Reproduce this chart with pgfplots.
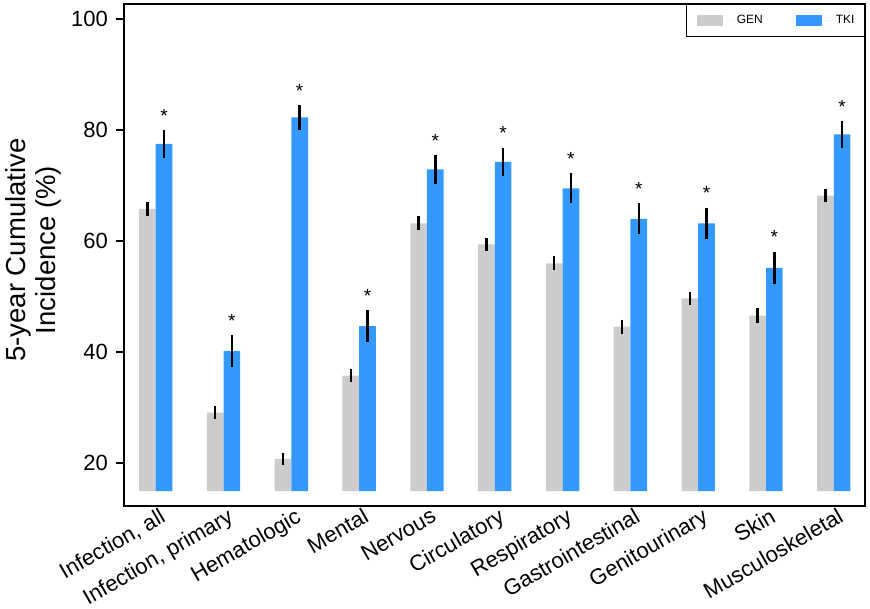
\documentclass[border=0pt]{standalone}
\usepackage{pgfplots}
\pgfplotsset{compat=1.18}
\usepackage{pgfplotstable}
\usepackage{fontspec}
\setmainfont{Liberation Sans}
\definecolor{gengray}{HTML}{CCCCCC}
\definecolor{tkiblue}{HTML}{3399FF}

\pgfplotstableread{
i gen generr tki tkierr
0 65.8 1.2 77.5 2.5
1 29.1 1.15 40.2 2.9
2 20.8 1.1 82.3 2.25
3 35.8 1.2 44.7 2.9
4 63.2 1.25 72.9 2.6
5 59.4 1.25 74.25 2.6
6 56.0 1.25 69.5 2.7
7 44.6 1.25 64.0 2.8
8 49.7 1.2 63.2 2.85
9 46.6 1.3 55.2 2.9
10 68.2 1.15 79.2 2.4
}\data

\begin{document}
\begin{tikzpicture}
\begin{axis}[
  name=ax,
  scale only axis,
  width=741pt, height=502pt,
  xmin=-0.468, xmax=10.46,
  ymin=-2.7, ymax=87.7,
  axis line style={line width=1.5pt},
  xtick={0,...,10},
  xticklabels={{Infection, all},{Infection, primary},Hematologic,Mental,Nervous,Circulatory,Respiratory,Gastrointestinal,Genitourinary,Skin,Musculoskeletal},
  xtick style={draw=none},
  xticklabel style={xshift=3pt, yshift=7pt, rotate=30, anchor=north east, inner sep=0pt, font=\fontsize{22}{25}\selectfont},
  ytick={5,25,45,65,85},
  yticklabels={20,40,60,80,100},
  ytick pos=left,
  tick align=outside,
  major tick length=8pt,
  ytick style={line width=1.5pt, black},
  yticklabel style={font=\fontsize{22}{26}\selectfont, inner sep=0pt, xshift=-8pt},
  /pgf/number format/assume math mode=true,
  ylabel={5-year Cumulative\\Incidence (\%)},
  ylabel style={at={(axis description cs:-0.085,0.51)}, anchor=south, rotate=0, align=center, font=\fontsize{27.5}{30}\selectfont, inner sep=0pt},
  legend columns=2,
  legend style={at={(1,1)}, anchor=north east, draw=black, line width=1pt,
    font=\fontsize{12}{14}\selectfont, inner xsep=10pt, inner ysep=10.5pt,
    column sep=0pt,
    /tikz/every even column/.append style={column sep=33pt},
    nodes={inner sep=0pt}},
  mylegend/.style={legend image code/.code={\fill[##1] (0pt,-5.5pt) rectangle (26pt,5.5pt); \path (0pt,0pt) -- (40pt,0pt);}},
  errstyle/.style={error bars/.cd, y dir=both, y explicit, error mark=none,
    error bar style={draw=black, solid, line width=2.4pt}},
]
\addplot[ybar, bar width=0.246, bar shift=0pt, fill=gengray, draw=none, mylegend, errstyle]
  table[x expr=\thisrow{i}-0.123, y expr=\thisrow{gen}-15, y error=generr]{\data};
\addplot[ybar, bar width=0.246, bar shift=0pt, fill=tkiblue, draw=none, mylegend, errstyle]
  table[x expr=\thisrow{i}+0.123, y expr=\thisrow{tki}-15, y error=tkierr]{\data};
\addplot[draw=none, forget plot, nodes near coords={*},
  every node near coord/.append style={anchor=south, inner sep=0pt, yshift=7.5pt, font=\fontsize{19}{21}\selectfont}]
  table[x expr=\thisrow{i}+0.123, y expr=\thisrow{tki}+\thisrow{tkierr}-15]{\data};
\legend{GEN,TKI}
\end{axis}
\pgfresetboundingbox
\path ([xshift=-124pt,yshift=-102pt]ax.south west) rectangle ([xshift=5pt,yshift=4pt]ax.north east);
\end{tikzpicture}
\end{document}
